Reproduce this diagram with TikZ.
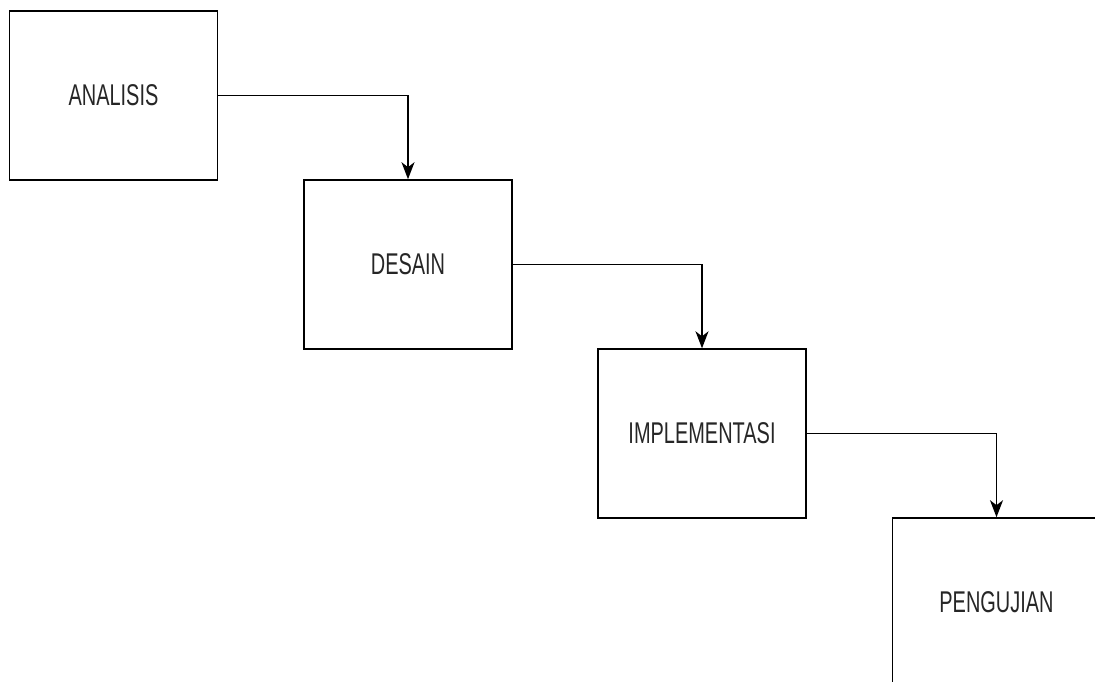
\documentclass[tikz,border=0pt]{standalone}
\usepackage{fontspec}
\setmainfont{Liberation Sans}
\usetikzlibrary{arrows.meta}
% condensed label text
\newcommand{\narrowlabel}[1]{\scalebox{0.665}[1]{#1}}
\begin{document}
\begin{tikzpicture}[x=1pt,y=-1pt,
  stage/.style={draw=black, line width=1.6pt, fill=white, rectangle,
    minimum width=208pt, minimum height=169pt, inner sep=0pt,
    text=black!85, font=\fontsize{30}{36}\selectfont},
  flow/.style={draw=black, line width=1.6pt,
    -{Stealth[length=17pt,width=13pt,inset=5pt]}}]
  \clip (0,0) rectangle (1095,682);
  \fill[white] (0,0) rectangle (1095,682);
  \node[stage] (a) at (113.5,95.5)  {\narrowlabel{ANALISIS}};
  \node[stage] (d) at (408,264.5)   {\narrowlabel{DESAIN}};
  \node[stage] (i) at (702,433.6)   {\narrowlabel{IMPLEMENTASI}};
  \node[stage] (p) at (996.5,602.5) {\narrowlabel{PENGUJIAN}};
  \draw[flow] (a.east) -| (d.north);
  \draw[flow] (d.east) -| (i.north);
  \draw[flow] (i.east) -| (p.north);
\end{tikzpicture}
\end{document}
